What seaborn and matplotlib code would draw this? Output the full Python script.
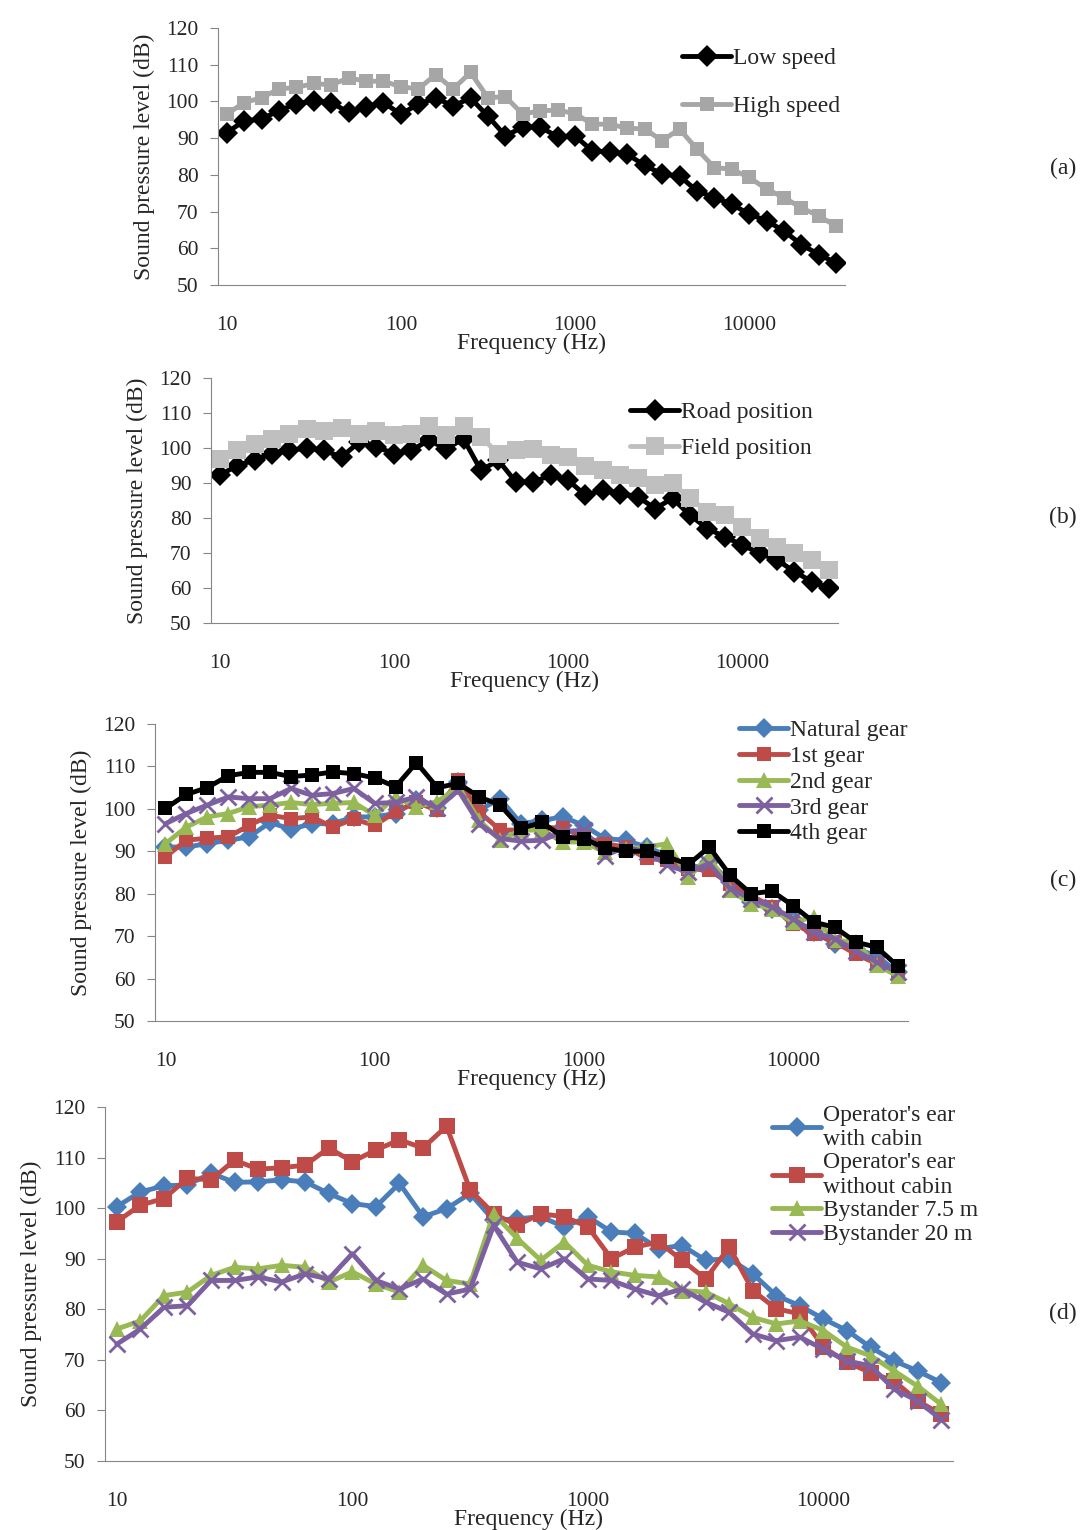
import numpy as np
import pandas as pd
import seaborn as sns
import matplotlib.pyplot as plt

# 1/3 octave bands, 10 Hz .. 31.5 kHz (36 bands, drawn on a category axis like Excel)
freq = [10, 12.5, 16, 20, 25, 31.5, 40, 50, 63, 80, 100, 125, 160, 200, 250, 315, 400, 500,
        630, 800, 1000, 1250, 1600, 2000, 2500, 3150, 4000, 5000, 6300, 8000, 10000, 12500,
        16000, 20000, 25000, 31500]

low_speed = [91.5, 94.7, 95.2, 97.5, 99.3, 100.2, 99.7, 97, 98.5, 99.7, 96.5, 99.3, 100.9, 98.8,
             100.9, 96, 90.6, 93, 93, 90.4, 90.6, 86.5, 86.3, 85.6, 82.6, 80.2, 79.7, 75.6, 73.8,
             72, 69.3, 67.5, 64.7, 61, 58.3, 56]
high_speed = [96.5, 99.7, 101, 103.4, 103.8, 104.9, 104.5, 106.4, 105.5, 105.5, 104, 103.4, 107.3,
              103.4, 107.9, 101, 101.3, 96.5, 97.5, 97.6, 96.7, 93.8, 93.8, 92.7, 92.5, 89.3, 92.5,
              87, 82, 81.5, 79.3, 76.1, 73.8, 71, 68.8, 66]

road_pos = [92.2, 95, 96.5, 98.4, 99.3, 100, 99.3, 97.4, 101.7, 100.3, 98.4, 99.3, 102.2, 99.8,
            102.6, 93.6, 96.5, 90.3, 90.3, 92.2, 90.8, 86.5, 88, 87, 86.1, 82.7, 85.6, 80.8, 77,
            74.6, 72.3, 69.9, 68, 64.7, 61.8, 59.9]
field_pos = [96.9, 99.3, 101.2, 102.6, 104.1, 105.5, 105, 105.7, 104.1, 105, 103.6, 104.1, 106.4,
             103.6, 106.4, 103.1, 98.4, 99.3, 99.8, 97.9, 97.4, 95, 93.6, 92.4, 91.3, 89.4, 89.9,
             85.6, 81.8, 80.8, 77.5, 74.2, 71.8, 69.9, 68, 65.2]

natural_gear = [91, 91, 91.8, 92.6, 93.4, 96.8, 95.2, 96.5, 96.5, 98.1, 98.1, 98.9, 102, 100.1,
                106.4, 99.7, 102.4, 96.5, 97.3, 98.1, 96.1, 93, 92.6, 91, 89, 85.5, 87.5, 82.8,
                78, 76.5, 74.1, 71, 68.2, 67, 65.4, 61.5]
gear_1 = [88.7, 92.6, 93.1, 93.4, 96.1, 98.5, 97.7, 98.1, 95.7, 97.6, 96.1, 99.3, 101.5, 99.7,
          106.8, 99.3, 95, 95, 95.7, 95.4, 93.4, 91.8, 91, 88.3, 87.9, 85.9, 85.5, 82.4, 79.6,
          76.9, 72.9, 70.6, 68.6, 65.8, 63.5, 61.1]
gear_2 = [91.8, 95.7, 98.1, 98.9, 100.5, 100.9, 101.5, 101, 101.3, 101.5, 98.5, 102.8, 100.5,
          101.7, 105.2, 97.3, 92.6, 95, 95, 92.2, 92.2, 89.8, 90.6, 91, 91.8, 83.9, 88.7, 80.8,
          77.6, 76.5, 73.3, 74.5, 69, 68.6, 63.1, 60.7]
gear_3 = [96.5, 98.9, 100.9, 102.8, 102.4, 102.4, 104.8, 103.2, 103.6, 104.8, 101.3, 101.5, 102.8,
          100.1, 104.4, 96.5, 93, 92.4, 92.6, 94.6, 95, 89, 91, 89.8, 86.7, 85.1, 87.1, 81.2,
          78.8, 76.9, 74.1, 70.9, 69.4, 66.6, 63.9, 61.5]
gear_4 = [100.1, 103.4, 105, 107.8, 108.6, 108.6, 107.6, 108, 108.7, 108.3, 107.3, 105.2, 110.9,
          105, 106, 102.8, 100.9, 95.4, 96.8, 93.4, 93, 90.8, 90, 90, 88.7, 86.9, 91, 84.3, 80,
          80.6, 77.2, 73.3, 72.1, 68.6, 67.4, 63]

op_cabin = [100.3, 103.2, 104.4, 104.6, 106.9, 105.1, 105.2, 105.6, 105.2, 102.9, 100.9, 100.3,
            104.9, 98.3, 99.9, 102.9, 97.6, 97.9, 98.3, 96.3, 98.3, 95.3, 95, 92, 92.6, 89.7, 90,
            87, 82.7, 80.7, 78.1, 75.8, 72.5, 69.8, 67.8, 65.5]
op_no_cabin = [97.3, 100.6, 101.9, 105.9, 105.6, 109.5, 107.7, 108, 108.5, 111.9, 109.2, 111.5,
               113.5, 111.9, 116.2, 103.6, 98.9, 96.6, 98.9, 98.3, 96.3, 90, 92.3, 93.3, 89.7, 86,
               92.3, 83.7, 80.1, 79.1, 72.5, 69.5, 67.5, 65.8, 61.9, 59.2]
bystander_7_5 = [76.1, 77.7, 82.7, 83.4, 86.7, 88.3, 88, 88.7, 88.3, 85.4, 87.4, 85, 83.4, 88.7,
                 85.7, 85, 98.9, 94, 89.7, 93.3, 88.7, 87.4, 86.7, 86.4, 83.7, 83.4, 81.1, 78.4,
                 77.1, 77.7, 75.8, 72.5, 70.8, 67.8, 64.8, 61.2]
bystander_20 = [73.1, 76.1, 80.4, 80.7, 85.7, 85.7, 86.4, 85.4, 87, 86, 91, 85.7, 84, 86, 83, 84,
                96.6, 89.3, 88, 90, 86, 85.7, 84, 82.7, 84, 81.4, 79.4, 75.1, 73.8, 74.5, 72.1,
                69.8, 68.8, 64.2, 61.9, 58.2]

BLUE, RED, GREEN, PURPLE = "#4a7ebb", "#be4b48", "#98b954", "#7d60a0"

sns.set_style("white")
plt.rcParams['font.family'] = ['Liberation Serif', 'DejaVu Serif']

W, H = 1087, 1530
fig = plt.figure(figsize=(W / 100, H / 100), dpi=100)
FS = 17


def px_axes(left, top, right, bottom):
    return fig.add_axes([left / W, 1 - bottom / H, (right - left) / W, (bottom - top) / H])


def panel(ax, series, legend_xy, spacing, tag, tag_y):
    idx = np.arange(len(freq))
    for label, vals, color, marker, ms in series:
        df = pd.DataFrame({"band": idx, "spl": vals})
        sns.lineplot(data=df, x="band", y="spl", ax=ax, color=color, marker=marker,
                     markersize=ms, linewidth=3.5, label=label, markeredgecolor=color,
                     markeredgewidth=2 if marker == "x" else 0)
    ax.set_xlim(-0.5, len(freq) - 0.5)
    ax.set_ylim(50, 120)
    ax.set_yticks(range(50, 121, 10))
    ax.set_xticks([0, 10, 20, 30])
    ax.set_xticklabels(["10", "100", "1000", "10000"])
    ax.set_xticks(np.arange(-0.5, len(freq)), minor=True)
    ax.tick_params(axis="x", which="major", length=0, labelsize=15.5, pad=22)
    ax.tick_params(axis="x", which="minor", length=6, color="#868686")
    ax.tick_params(axis="y", length=6, color="#868686", labelsize=15.5, direction="out",
                   left=True, pad=8)
    for s in ["top", "right"]:
        ax.spines[s].set_visible(False)
    for s in ["left", "bottom"]:
        ax.spines[s].set_color("#868686")
    ax.set_xlabel("Frequency (Hz)", fontsize=FS, labelpad=-1)
    ax.set_ylabel("Sound pressure level (dB)", fontsize=FS, labelpad=8)
    ax.legend(loc="upper left", bbox_to_anchor=(legend_xy[0] / W, 1 - legend_xy[1] / H),
              bbox_transform=fig.transFigure, frameon=False, fontsize=FS,
              labelspacing=spacing, handlelength=2.1, handletextpad=0.05, borderpad=0)
    fig.text(1063 / W, 1 - tag_y / H, tag, fontsize=FS, ha="center", va="center")


ax_a = px_axes(218, 28, 845, 285)
panel(ax_a, [("Low speed", low_speed, "black", "D", 11),
             ("High speed", high_speed, "#a6a6a6", "s", 10)],
      (670, 36), 1.1, "(a)", 168)

ax_b = px_axes(211, 378, 838, 623)
panel(ax_b, [("Road position", road_pos, "black", "D", 11),
             ("Field position", field_pos, "#bfbfbf", "s", 13)],
      (618, 390), 0.6, "(b)", 517)

ax_c = px_axes(155, 724, 908, 1021)
panel(ax_c, [("Natural gear", natural_gear, BLUE, "D", 10),
             ("1st gear", gear_1, RED, "s", 10),
             ("2nd gear", gear_2, GREEN, "^", 11),
             ("3rd gear", gear_3, PURPLE, "x", 11),
             ("4th gear", gear_4, "black", "s", 10)],
      (727, 708), 0.18, "(c)", 880)

ax_d = px_axes(105, 1107, 953, 1461)
panel(ax_d, [("Operator's ear\nwith cabin", op_cabin, BLUE, "D", 10),
             ("Operator's ear\nwithout cabin", op_no_cabin, RED, "s", 11),
             ("Bystander 7.5 m", bystander_7_5, GREEN, "^", 11),
             ("Bystander 20 m", bystander_20, PURPLE, "x", 12)],
      (760, 1093), 0.1, "(d)", 1313)

fig.savefig("out.png", dpi=100)
plt.close(fig)
